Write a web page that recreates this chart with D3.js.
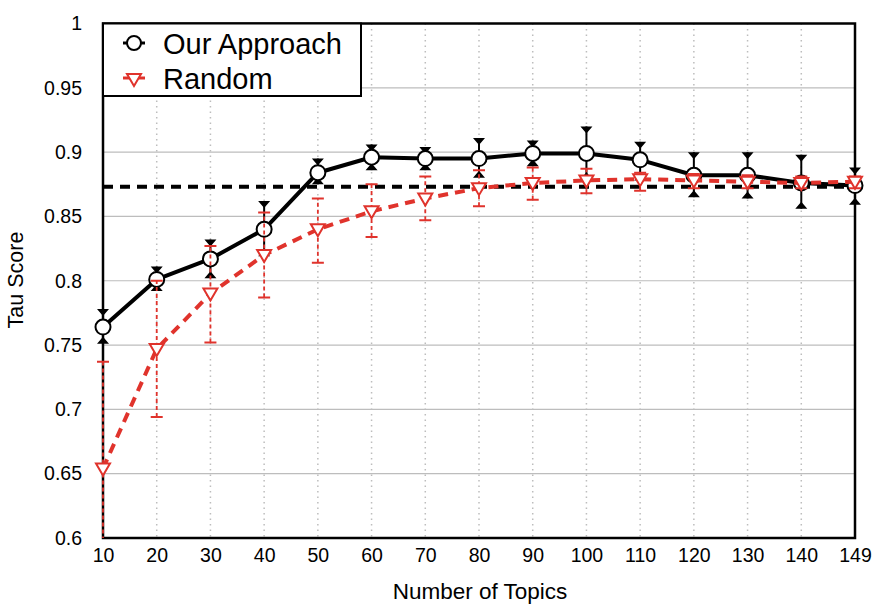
<!DOCTYPE html>
<html>
<head>
<meta charset="utf-8">
<script src="https://cdn.jsdelivr.net/npm/d3@7"></script>
<style>
  body { margin: 0; background: #fff; }
  text { font-family: "Liberation Sans", Arial, sans-serif; }
</style>
</head>
<body>
<div id="chart"></div>
<script>
const W = 873, H = 610;
const M = { left: 103, right: 18, top: 23.5, bottom: 72 };

const topics = ['10','20','30','40','50','60','70','80','90','100','110','120','130','140','149'];
const yTicks = [0.6, 0.65, 0.7, 0.75, 0.8, 0.85, 0.9, 0.95, 1];
const yTickLabels = ['0.6','0.65','0.7','0.75','0.8','0.85','0.9','0.95','1'];

const oursMean = [0.764, 0.801, 0.817, 0.840, 0.884, 0.896, 0.895, 0.895, 0.899, 0.899, 0.894, 0.882, 0.882, 0.876, 0.874];
const oursLow  = [0.751, 0.792, 0.802, 0.819, 0.875, 0.886, 0.886, 0.880, 0.889, 0.879, 0.878, 0.865, 0.864, 0.856, 0.859];
const oursHigh = [0.778, 0.811, 0.832, 0.862, 0.895, 0.906, 0.904, 0.911, 0.909, 0.920, 0.908, 0.900, 0.900, 0.898, 0.888];

const randMean = [0.654, 0.747, 0.790, 0.820, 0.840, 0.854, 0.864, 0.872, 0.876, 0.878, 0.879, 0.878, 0.877, 0.876, 0.877];
const randLow  = [0.560, 0.694, 0.752, 0.787, 0.814, 0.834, 0.847, 0.858, 0.863, 0.868, 0.870, 0.872, 0.872, 0.872, 0.872];
const randHigh = [0.737, 0.800, 0.827, 0.853, 0.864, 0.875, 0.881, 0.886, 0.888, 0.887, 0.884, 0.883, 0.882, 0.881, 0.881];

const baseline = 0.873;

const BLACK = '#000', RED = '#e0332c', GRID = '#bdbdbd';

const svg = d3.select('#chart').append('svg')
  .attr('width', W).attr('height', H);

const x = d3.scalePoint().domain(topics).range([M.left, W - M.right]);
const y = d3.scaleLinear().domain([0.6, 1]).range([538, M.top]);

svg.append('defs').append('clipPath').attr('id', 'plot')
  .append('rect')
  .attr('x', M.left - 10).attr('y', M.top)
  .attr('width', W - M.right - M.left + 20).attr('height', y(0.6) - M.top);

// grid
svg.append('g').selectAll('line')
  .data(yTicks.slice(1, -1))
  .join('line')
  .attr('x1', M.left).attr('x2', W - M.right)
  .attr('y1', d => y(d)).attr('y2', d => y(d))
  .attr('stroke', GRID).attr('stroke-width', 1.2);

svg.append('g').selectAll('line')
  .data(topics.slice(1, -1))
  .join('line')
  .attr('x1', d => x(d)).attr('x2', d => x(d))
  .attr('y1', M.top).attr('y2', y(0.6))
  .attr('stroke', GRID).attr('stroke-width', 1.5)
  .attr('stroke-dasharray', '1.5,4');

// frame
svg.append('rect')
  .attr('x', M.left).attr('y', M.top)
  .attr('width', W - M.right - M.left).attr('height', y(0.6) - M.top)
  .attr('fill', 'none').attr('stroke', BLACK).attr('stroke-width', 2.5);

// axes labels
const yAxis = d3.axisLeft(y).tickValues(yTicks).tickSize(0).tickPadding(21)
  .tickFormat((d, i) => yTickLabels[i]);
svg.append('g').attr('transform', `translate(${M.left},0)`).call(yAxis)
  .call(g => g.select('.domain').remove())
  .selectAll('text').attr('font-size', 19.5).attr('fill', '#000')
  .attr('font-family', '"Liberation Sans", Arial, sans-serif');

const xAxis = d3.axisBottom(x).tickSize(0).tickPadding(10);
svg.append('g').attr('transform', `translate(0,${y(0.6)})`).call(xAxis)
  .call(g => g.select('.domain').remove())
  .selectAll('text').attr('font-size', 19.5).attr('fill', '#000')
  .attr('font-family', '"Liberation Sans", Arial, sans-serif');

svg.append('text')
  .attr('x', 480).attr('y', 599)
  .attr('text-anchor', 'middle').attr('font-size', 22.5)
  .text('Number of Topics');

svg.append('text')
  .attr('transform', 'translate(23,280) rotate(-90)')
  .attr('text-anchor', 'middle').attr('font-size', 21.5)
  .text('Tau Score');

// baseline
svg.append('line')
  .attr('x1', M.left).attr('x2', W - M.right)
  .attr('y1', y(baseline)).attr('y2', y(baseline))
  .attr('stroke', BLACK).attr('stroke-width', 4)
  .attr('stroke-dasharray', '10,7');

const line = d3.line().x(d => x(d.t)).y(d => y(d.v));

const ours = topics.map((t, i) => ({ t, v: oursMean[i], lo: oursLow[i], hi: oursHigh[i] }));
const rand = topics.map((t, i) => ({ t, v: randMean[i], lo: randLow[i], hi: randHigh[i] }));

// black series
svg.append('g').selectAll('line')
  .data(ours).join('line')
  .attr('x1', d => x(d.t)).attr('x2', d => x(d.t))
  .attr('y1', d => y(d.lo)).attr('y2', d => y(d.hi))
  .attr('stroke', BLACK).attr('stroke-width', 2);

const tri = (cx, cy, dir) => `M${cx - 6},${cy} L${cx + 6},${cy} L${cx},${cy + dir * 7} Z`;
svg.append('g').selectAll('path')
  .data(ours).join('path')
  .attr('d', d => tri(x(d.t), y(d.hi), 1) + tri(x(d.t), y(d.lo), -1))
  .attr('fill', BLACK);

svg.append('path').datum(ours)
  .attr('d', line).attr('fill', 'none')
  .attr('stroke', BLACK).attr('stroke-width', 4).attr('stroke-linejoin', 'round');

svg.append('g').selectAll('circle')
  .data(ours).join('circle')
  .attr('cx', d => x(d.t)).attr('cy', d => y(d.v)).attr('r', 7.5)
  .attr('fill', '#fff').attr('stroke', BLACK).attr('stroke-width', 2);

// red series
const redErr = svg.append('g').attr('clip-path', 'url(#plot)');
redErr.selectAll('line')
  .data(rand).join('line')
  .attr('x1', d => x(d.t)).attr('x2', d => x(d.t))
  .attr('y1', d => y(d.lo)).attr('y2', d => y(d.hi))
  .attr('stroke', RED).attr('stroke-width', 1.8)
  .attr('stroke-dasharray', '4,3');

redErr.selectAll('path')
  .data(rand).join('path')
  .attr('d', d => `M${x(d.t) - 6},${y(d.hi)} h12 M${x(d.t) - 6},${y(d.lo)} h12`)
  .attr('stroke', RED).attr('stroke-width', 2);

svg.append('path').datum(rand)
  .attr('d', line).attr('fill', 'none')
  .attr('stroke', RED).attr('stroke-width', 4)
  .attr('stroke-dasharray', '10,7');

const downTri = (cx, cy) => `M${cx - 7},${cy - 5} L${cx + 7},${cy - 5} L${cx},${cy + 7} Z`;
svg.append('g').selectAll('path')
  .data(rand).join('path')
  .attr('d', d => downTri(x(d.t), y(d.v)))
  .attr('fill', '#fff').attr('stroke', RED).attr('stroke-width', 2);

// legend
const lg = svg.append('g');
lg.append('rect')
  .attr('x', M.left).attr('y', M.top).attr('width', 258).attr('height', 72.5)
  .attr('fill', '#fff').attr('stroke', BLACK).attr('stroke-width', 2);

lg.append('line').attr('x1', 123).attr('x2', 145).attr('y1', 43).attr('y2', 43)
  .attr('stroke', BLACK).attr('stroke-width', 3);
lg.append('circle').attr('cx', 134).attr('cy', 43).attr('r', 7)
  .attr('fill', '#fff').attr('stroke', BLACK).attr('stroke-width', 2);
lg.append('text').attr('x', 163).attr('y', 54).attr('font-size', 29).text('Our Approach');

lg.append('line').attr('x1', 123).attr('x2', 145).attr('y1', 78).attr('y2', 78)
  .attr('stroke', RED).attr('stroke-width', 3);
lg.append('path').attr('d', downTri(134, 79))
  .attr('fill', '#fff').attr('stroke', RED).attr('stroke-width', 2);
lg.append('text').attr('x', 163).attr('y', 89).attr('font-size', 29).text('Random');
</script>
</body>
</html>
